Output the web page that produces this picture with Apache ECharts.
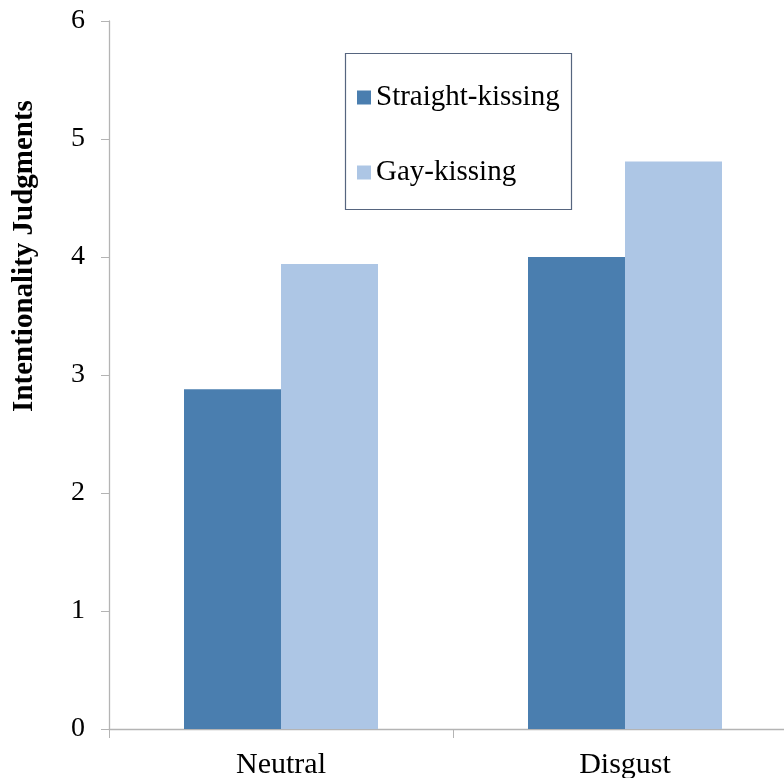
<!DOCTYPE html>
<html>
<head>
<meta charset="utf-8">
<script src="https://cdn.jsdelivr.net/npm/echarts@6/dist/echarts.min.js"></script>
<style>html,body{margin:0;padding:0;background:#fff}#c{width:784px;height:778px}</style>
</head>
<body>
<div id="c"></div>
<script>
const categories = ['Neutral', 'Disgust'];
const seriesNames = ['Straight-kissing', 'Gay-kissing'];
const straightValues = [2.88, 4.0];
const gayValues = [3.94, 4.81];
const yTicks = [0, 1, 2, 3, 4, 5, 6];
const colors = ['#4a7eaf', '#adc6e5'];
const serif = '"Liberation Serif", "DejaVu Serif", serif';

const chart = echarts.init(document.getElementById('c'));
chart.setOption({
  animation: false,
  backgroundColor: '#fff',
  grid: { left: 109, width: 688, top: 21, bottom: 49, containLabel: false, outerBoundsMode: 'none' },
  legend: {
    data: seriesNames,
    orient: 'vertical',
    left: 357, top: 83,
    itemWidth: 14, itemHeight: 14,
    itemGap: 46,
    icon: 'rect',
    textStyle: { fontFamily: serif, fontSize: 29, color: '#000' },
    padding: 0
  },
  graphic: [
    { type: 'rect', shape: { x: 345.5, y: 53.5, width: 226, height: 156 },
      style: { fill: 'none', stroke: '#56657f', lineWidth: 1.2 }, z: 0 },
    { type: 'text', x: 25, y: 256, rotation: Math.PI / 2,
      style: { text: 'Intentionality Judgments', fontFamily: serif, fontWeight: 'bold', fontSize: 29,
               fill: '#000', textAlign: 'center', textVerticalAlign: 'middle' } }
  ],
  xAxis: {
    type: 'category',
    data: categories,
    axisLine: { lineStyle: { color: '#b4b4b4', width: 1.3 } },
    axisTick: { show: true, length: 9, lineStyle: { color: '#b4b4b4' } },
    axisLabel: { fontFamily: serif, fontSize: 30, color: '#000', margin: 21 }
  },
  yAxis: {
    type: 'value',
    min: yTicks[0], max: yTicks[yTicks.length - 1], interval: 1,
    axisLine: { show: true, lineStyle: { color: '#b4b4b4', width: 1.3 } },
    axisTick: { show: true, length: 8, lineStyle: { color: '#b4b4b4' } },
    axisLabel: { fontFamily: serif, fontSize: 28, color: '#000', margin: 24 },
    splitLine: { show: false }
  },
  series: [
    { name: seriesNames[0], type: 'bar', data: straightValues, barWidth: 97, barGap: '0%',
      itemStyle: { color: colors[0] } },
    { name: seriesNames[1], type: 'bar', data: gayValues, barWidth: 97, barGap: '0%',
      itemStyle: { color: colors[1] } }
  ]
});
</script>
</body>
</html>
